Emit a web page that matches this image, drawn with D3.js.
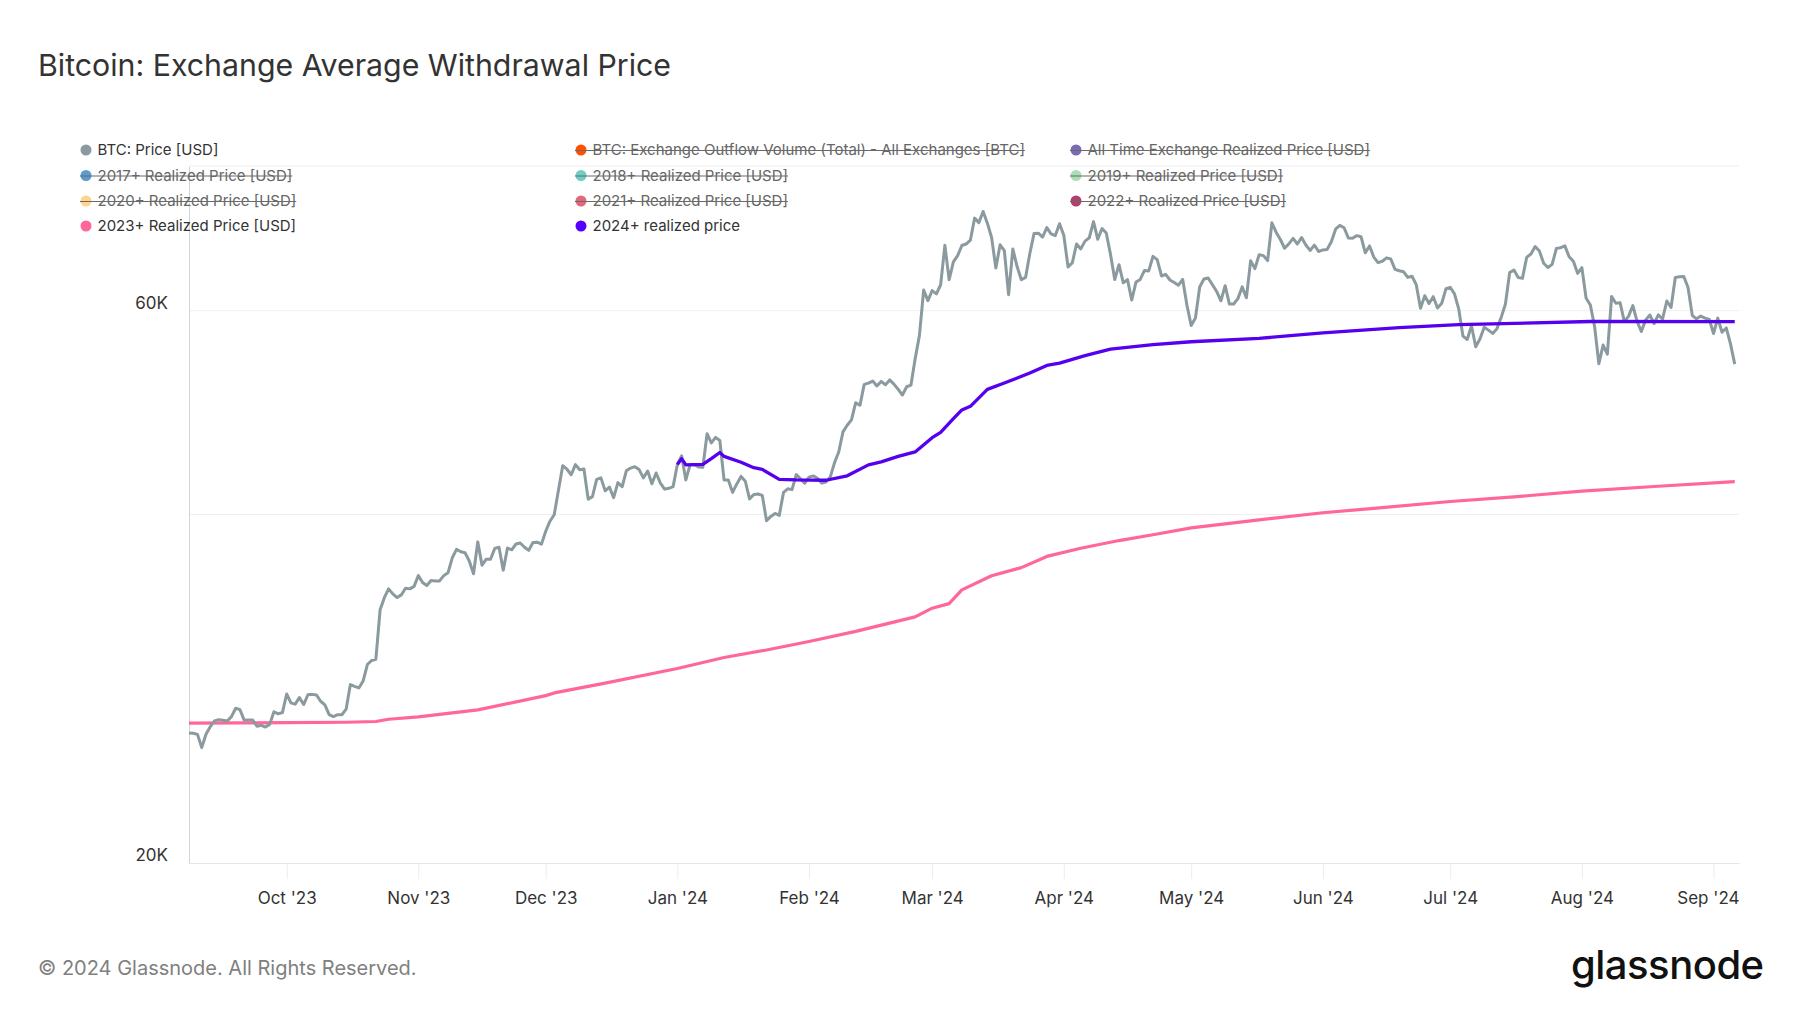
<!DOCTYPE html>
<html><head><meta charset="utf-8">
<script src="https://cdn.jsdelivr.net/npm/d3@7"></script>
<style>
html,body{margin:0;padding:0;background:#fff;}
svg{display:block;font-family:Inter,"Noto Sans",sans-serif;}
</style></head><body>
<svg id="chart" width="1800" height="1013"></svg>
<script>
// ---------------- DATA ----------------
const priceStartDate = "2023-09-08";
// BTC daily price [USD], Sep 8 2023 .. Sep 6 2024
const btcPrice = [
 25900,25890,25830,25160,25840,26230,26530,26600,26570,26530,26760,27210,27130,26570,26580,26580,26250,26300,26210,26350,27020,26910,26970,
 27990,27500,27430,27790,27410,27950,27970,27940,27590,27390,26870,26760,26860,26860,27160,28520,28420,28330,28720,29680,29920,29990,33090,33900,34500,34160,33910,34090,34540,34500,34670,
 35420,34940,34730,35080,35050,35050,35420,35630,36700,37320,37140,37070,36470,35550,37880,36160,36600,36590,37390,37480,35810,37420,37290,37720,37800,37480,37250,37830,37860,37710,
 38690,39470,39980,41980,44080,43770,43290,44170,43720,43790,41240,41450,42890,43020,41930,42240,41360,42620,42270,43650,43870,43990,43740,43020,43610,42520,43440,42580,42070,42140,42280,
 44180,44950,42850,44180,44160,43970,43930,46970,46120,46630,46340,42850,42840,41800,42510,43150,42740,41260,41620,41660,41550,39510,39850,40080,39930,41800,42100,42030,43300,42940,42580,
 43080,43190,42990,42580,42660,43090,44330,45300,47150,47770,48290,49960,49700,51820,51940,52160,51660,52120,51780,52280,51840,51300,50730,51570,51730,54520,57090,62500,61200,
 62440,62030,63170,68330,63800,66110,66940,68300,68500,69020,72120,71480,73080,71400,69400,65300,68390,67610,61930,67840,65500,63800,64100,67230,69960,69990,69450,70780,69890,69660,71330,
 69700,65450,65980,68500,67840,68900,69360,71620,69150,70640,70010,67100,63830,65740,63420,63810,61280,63510,63840,64990,64930,66840,66410,64280,64500,63770,63460,63120,63840,60640,
 58250,59120,62890,63890,64030,63160,62330,61190,63050,60790,60800,61450,62900,61550,66270,65230,67050,66940,66280,71450,70140,69120,67930,68530,69270,68500,69390,68370,67630,68350,67490,
 67700,67750,68800,70550,71080,70760,69340,69300,69650,69500,67320,68240,66750,66010,66190,66640,66490,65140,64960,64830,64100,64250,63180,60280,61800,60860,61690,60320,60890,62680,
 62850,62030,60200,57030,56660,58230,55850,56710,58050,57720,57340,57890,59200,60800,64720,65040,64090,63980,66700,67150,68170,67550,65930,65370,65780,67910,68000,68250,66780,66190,64620,
 65350,61500,60680,58120,53990,56030,55030,61700,60880,60950,58710,59350,60610,58740,57560,58880,59480,58480,59490,59010,61160,60380,64090,64180,64220,62830,59420,59030,59360,59120,58970,
 57330,59110,57480,57970,56160,53950
];

const realized2023Dates = ["2023-09-08","2023-09-20","2023-10-01","2023-10-15","2023-10-22","2023-10-25","2023-11-01","2023-11-15","2023-12-01","2023-12-03","2023-12-15","2024-01-01","2024-01-12","2024-01-22","2024-02-01","2024-02-12","2024-02-26","2024-03-01","2024-03-05","2024-03-08","2024-03-15","2024-03-22","2024-03-28","2024-04-05","2024-04-14","2024-04-22","2024-05-01","2024-05-17","2024-06-01","2024-06-13","2024-07-01","2024-07-16","2024-08-01","2024-08-18","2024-09-06"];
const realized2023 = [26420,26430,26440,26460,26500,26620,26750,27120,27900,28050,28600,29450,30100,30550,31070,31700,32630,33200,33500,34430,35410,35990,36800,37400,37980,38420,38950,39580,40140,40490,41050,41430,41910,42290,42700];

const realized2024Dates = ["2024-01-01","2024-01-02","2024-01-03","2024-01-07","2024-01-09","2024-01-11","2024-01-12","2024-01-16","2024-01-19","2024-01-21","2024-01-25","2024-01-29","2024-02-05","2024-02-10","2024-02-15","2024-02-18","2024-02-22","2024-02-26","2024-03-01","2024-03-03","2024-03-06","2024-03-08","2024-03-10","2024-03-14","2024-03-18","2024-03-24","2024-03-28","2024-03-31","2024-04-06","2024-04-12","2024-04-22","2024-05-01","2024-05-17","2024-06-01","2024-06-19","2024-07-03","2024-08-03","2024-09-06"];
const realized2024 = [44180,44700,44150,44200,44700,45250,44900,44380,43900,43750,42900,42850,42820,43200,44150,44420,44900,45300,46600,47100,48400,49250,49600,51300,51950,53000,53800,54060,54860,55580,56070,56400,56780,57400,58000,58350,58720,58700];

const legendLabels = [
 "BTC: Price [USD]","BTC: Exchange Outflow Volume (Total) - All Exchanges [BTC]","All Time Exchange Realized Price [USD]",
 "2017+ Realized Price [USD]","2018+ Realized Price [USD]","2019+ Realized Price [USD]",
 "2020+ Realized Price [USD]","2021+ Realized Price [USD]","2022+ Realized Price [USD]",
 "2023+ Realized Price [USD]","2024+ realized price"
];
const legendColors = ["#8a9a9f","#ff5200","#7b6bb2","#5b9bd0","#6fcdc4","#a9dfb6","#ffd48e","#e0697c","#b0406d","#ff6699","#5500ff"];
const legendHidden = [false,true,true,true,true,true,true,true,true,false,false];

const xTickDates = ["2023-10-01","2023-11-01","2023-12-01","2024-01-01","2024-02-01","2024-03-01","2024-04-01","2024-05-01","2024-06-01","2024-07-01","2024-08-01","2024-09-01"];
const xTickLabels = ["Oct '23","Nov '23","Dec '23","Jan '24","Feb '24","Mar '24","Apr '24","May '24","Jun '24","Jul '24","Aug '24","Sep '24"];
const yGridValues = [20000,40000,60000,80000];
const yTickValues = [20000,60000];
const yTickLabels = ["20K","60K"];

// ---------------- CHART ----------------
const parse = d3.utcParse("%Y-%m-%d");
const svg = d3.select("#chart");
const L = 189, R = 1739, T = 166, B = 863;

const x = d3.scaleUtc().domain([parse("2023-09-08"), parse("2024-09-07")]).range([L, R]);
const y = d3.scaleLog().domain([20000, 80000]).range([B, T]);

// title
svg.append("text").attr("x", 38).attr("y", 76).attr("font-size", 30.3).attr("font-weight", 400)
  .attr("fill", "#333").text("Bitcoin: Exchange Average Withdrawal Price");

// grid
svg.append("g").selectAll("line").data(yGridValues.filter(v => v > 20000)).join("line")
  .attr("x1", L).attr("x2", R).attr("y1", d => y(d)).attr("y2", d => y(d))
  .attr("stroke", "#efefef").attr("stroke-width", 1);

// x axis
const xAxis = d3.axisBottom(x).tickValues(xTickDates.map(parse))
  .tickFormat((d, i) => xTickLabels[i]).tickSizeInner(16).tickSizeOuter(0).tickPadding(13);
const gx = svg.append("g").attr("transform", `translate(0,${B})`).call(xAxis);
gx.select(".domain").attr("stroke", "#e3e6e8");
gx.selectAll(".tick line").attr("stroke", "#ececec");
gx.selectAll(".tick text").attr("font-size", 17).attr("fill", "#333").attr("font-family", "Inter");
// keep last label inside plot's right edge
gx.selectAll(".tick").each(function(d) {
  const t = d3.select(this).select("text");
  const w = t.node().getComputedTextLength();
  const cx = x(d);
  if (cx + w / 2 > R) t.attr("dx", R - (cx + w / 2));
});

// y axis
const yAxis = d3.axisLeft(y).tickValues(yTickValues).tickFormat((d, i) => yTickLabels[i])
  .tickSizeInner(0).tickSizeOuter(0).tickPadding(21);
const gy = svg.append("g").attr("transform", `translate(${L},0)`).call(yAxis);
gy.select(".domain").attr("stroke", "#cfd6d9");
gy.selectAll(".tick text").attr("font-size", 17).attr("fill", "#333").attr("font-family", "Inter").attr("dy", "-0.15em");

// lines
const priceData = btcPrice.map((v, i) => ({ d: d3.utcDay.offset(parse(priceStartDate), i), v }));
const r23 = realized2023.map((v, i) => ({ d: parse(realized2023Dates[i]), v }));
const r24 = realized2024.map((v, i) => ({ d: parse(realized2024Dates[i]), v }));
const line = d3.line().x(p => x(p.d)).y(p => y(p.v));

svg.append("path").datum(r23).attr("d", line).attr("fill", "none")
  .attr("stroke", "#ff6699").attr("stroke-width", 3.2).attr("stroke-linejoin", "round");
svg.append("path").datum(priceData).attr("d", line).attr("fill", "none")
  .attr("stroke", "#8a9a9f").attr("stroke-width", 3).attr("stroke-linejoin", "round");
svg.append("path").datum(r24).attr("d", line).attr("fill", "none")
  .attr("stroke", "#5500ee").attr("stroke-width", 3.3).attr("stroke-linejoin", "round");

// legend
const colX = [86, 581, 1076], rowY = [150, 175.5, 201, 226];
const lg = svg.append("g").attr("font-size", 15);
legendLabels.forEach((lab, i) => {
  const cx = colX[i % 3], cy = rowY[Math.floor(i / 3)];
  const g = lg.append("g");
  g.append("circle").attr("cx", cx).attr("cy", cy).attr("r", 5.5).attr("fill", legendColors[i]);
  const t = g.append("text").attr("x", cx + 11.5).attr("y", cy + 5.2)
    .attr("fill", legendHidden[i] ? "#666" : "#333").text(lab);
  if (legendHidden[i]) {
    const w = t.node().getComputedTextLength();
    g.append("line").attr("x1", cx - 6).attr("x2", cx + 11.5 + w).attr("y1", cy + 0.5).attr("y2", cy + 0.5)
      .attr("stroke", "#6a6a6a").attr("stroke-width", 1.1);
  }
});

// footer
svg.append("text").attr("x", 38).attr("y", 975).attr("font-size", 20).attr("fill", "#808080")
  .text("© 2024 Glassnode. All Rights Reserved.");
svg.append("text").attr("x", 1571).attr("y", 979).attr("font-size", 40).attr("font-weight", 500)
  .attr("fill", "#111").attr("letter-spacing", "-0.5").text("glassnode");
</script>
</body></html>
